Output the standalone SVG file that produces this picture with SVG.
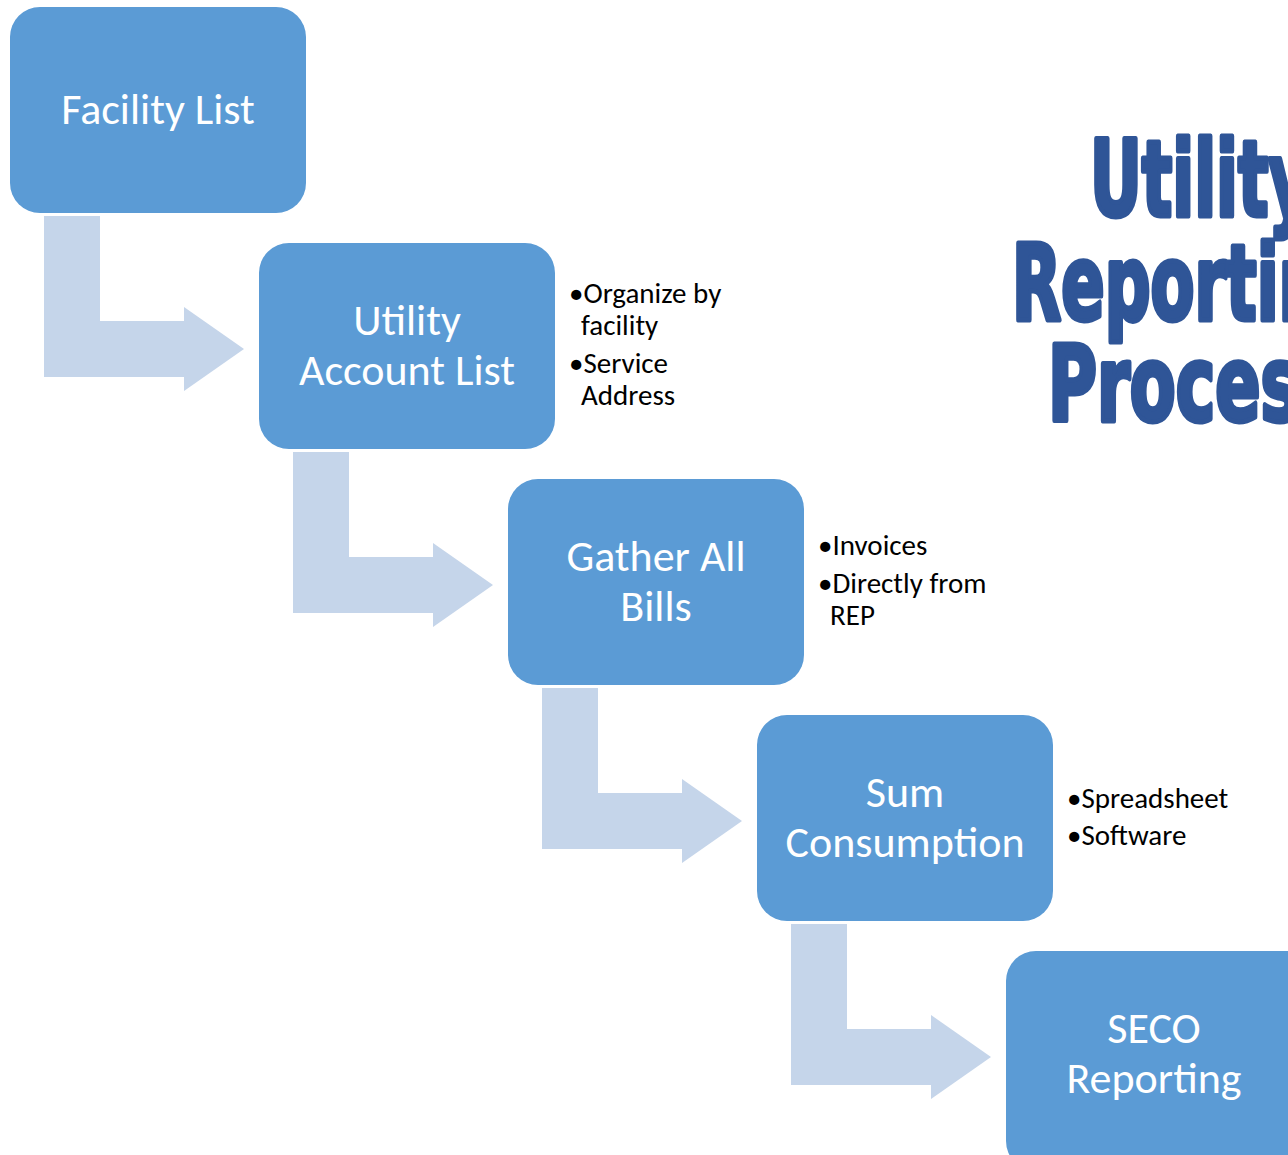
<svg xmlns="http://www.w3.org/2000/svg" width="1288" height="1155" viewBox="0 0 1288 1155">
<style>
.box{fill:#5B9BD5}
.lbl{font-family:"Carlito","Liberation Sans",sans-serif;font-size:44px;fill:#FFFFFF;text-anchor:middle}
.bul{font-family:"Carlito","Liberation Sans",sans-serif;font-size:29px;fill:#000000}
.arr{fill:#C5D5EA}
.title{font-family:"Liberation Sans Narrow","DejaVu Sans Condensed","Liberation Sans",sans-serif;font-weight:bold;font-size:106px;fill:#2F5597;stroke:#2F5597;stroke-width:5;stroke-linejoin:round}
</style>
<defs>
<polygon id="larrow" points="44,216 100,216 100,321 184,321 184,307 244,349 184,391 184,377 44,377"/>
</defs>
<g id="connectors">
<use href="#larrow" class="arr"/>
<use href="#larrow" class="arr" transform="translate(249,236)"/>
<use href="#larrow" class="arr" transform="translate(498,472)"/>
<use href="#larrow" class="arr" transform="translate(747,708)"/>
</g>
<g id="node-facility">
<rect class="box" x="10" y="7" width="296" height="206" rx="30"/>
<text class="lbl" x="158" y="124">Facility List</text>
</g>
<g id="node-account">
<rect class="box" x="259" y="243" width="296" height="206" rx="30"/>
<text class="lbl" x="407" y="335">Utility</text>
<text class="lbl" x="407" y="385">Account List</text>
</g>
<g id="node-bills">
<rect class="box" x="508" y="479" width="296" height="206" rx="30"/>
<text class="lbl" x="656" y="571">Gather All</text>
<text class="lbl" x="656" y="621">Bills</text>
</g>
<g id="node-sum">
<rect class="box" x="757" y="715" width="296" height="206" rx="30"/>
<text class="lbl" x="905" y="807">Sum</text>
<text class="lbl" x="905" y="857">Consumption</text>
</g>
<g id="node-seco">
<rect class="box" x="1006" y="951" width="316" height="220" rx="30"/>
<text class="lbl" x="1154" y="1043">SECO</text>
<text class="lbl" x="1154" y="1093">Reporting</text>
</g>
<g id="notes-account">
<text class="bul" x="569" y="303">•Organize by</text>
<text class="bul" x="581" y="335">facility</text>
<text class="bul" x="569" y="373">•Service</text>
<text class="bul" x="581" y="405">Address</text>
</g>
<g id="notes-bills">
<text class="bul" x="818" y="555">•Invoices</text>
<text class="bul" x="818" y="593">•Directly from</text>
<text class="bul" x="830" y="625">REP</text>
</g>
<g id="notes-sum">
<text class="bul" x="1067" y="808">•Spreadsheet</text>
<text class="bul" x="1067" y="845">•Software</text>
</g>
<g id="title">
<text class="title" x="1090" y="216" textLength="220" lengthAdjust="spacingAndGlyphs">Utility</text>
<text class="title" x="1012" y="320" textLength="358" lengthAdjust="spacingAndGlyphs">Reporting</text>
<text class="title" x="1048" y="421" textLength="292" lengthAdjust="spacingAndGlyphs">Process</text>
</g>
</svg>
